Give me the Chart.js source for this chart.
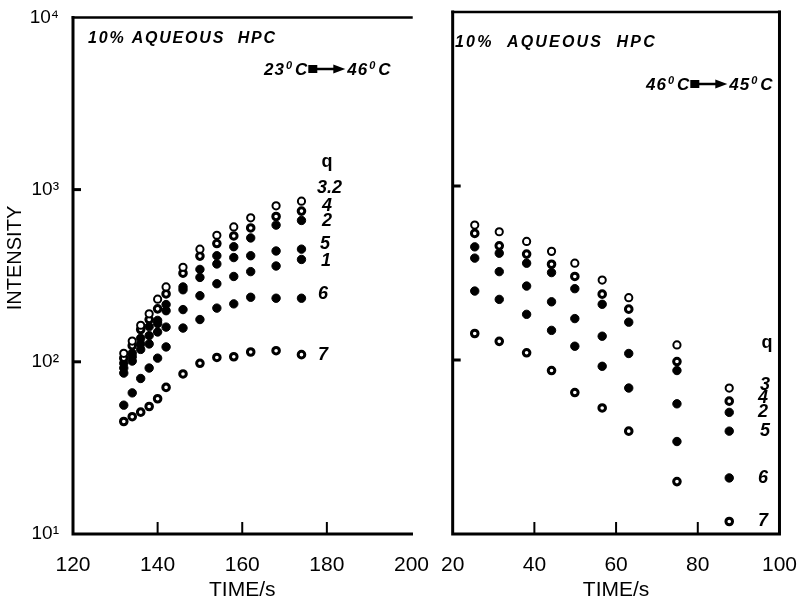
<!DOCTYPE html>
<html>
<head>
<meta charset="utf-8">
<script src="https://cdn.jsdelivr.net/npm/chart.js@4"></script>
<style>
  html, body { margin: 0; padding: 0; background: #fff; }
  #wrap { position: relative; width: 808px; height: 606px; }
  canvas { position: absolute; top: 0; }
  #left { left: 0; }
  #right { left: 430px; }
</style>
</head>
<body>
<div id="wrap">
  <canvas id="left" width="440" height="606"></canvas>
  <canvas id="right" width="378" height="606"></canvas>
</div>
<script>
// Heating run 23C -> 46C (left panel)
const heatTime = [132, 134, 136, 138, 140, 142, 146, 150, 154, 158, 162, 168, 174];
const heatQ32 = [112, 132, 163, 190, 231, 272, 354, 451, 543, 607, 686, 805, 857];
const heatQ4  = [105, 124, 154, 176, 203, 248, 327, 411, 486, 538, 599, 698, 750];
const heatQ2  = [98, 112, 137, 160, 174, 215, 272, 344, 413, 466, 524, 622, 662];
const heatQ5  = [92, 107, 127, 142, 167, 198, 262, 309, 370, 403, 413, 440, 451];
const heatQ1  = [86, 101, 118, 127, 149, 159, 201, 242, 284, 313, 334, 360, 393];
const heatQ6  = [56, 66, 80, 92, 105, 122, 157, 176, 205, 217, 237, 234, 234];
const heatQ7  = [45, 48, 51, 55, 61, 71, 85, 98, 106, 107, 114, 116, 110];

// Cooling run 46C -> 45C (right panel)
const coolTime = [25.4, 31.4, 38.1, 44.2, 49.9, 56.6, 63.1, 74.9, 87.7];
const coolQ3 = [596, 546, 480, 421, 360, 288, 228, 122, 69];
const coolQ4 = [534, 453, 406, 355, 302, 239, 196, 98, 58];
const coolQ2 = [447, 411, 360, 318, 257, 209, 165, 87, 50];
const coolQ5 = [385, 322, 266, 216, 173, 137, 109, 56, 39];
const coolQ6 = [249, 223, 183, 148, 120, 92, 69, 34, 21];
const coolQ7 = [142, 128, 110, 87, 65, 53, 39, 20, 11.8];

const yTickValues = [10, 100, 1000, 10000];
const yTickLabels = ['10¹', '10²', '10³', '10⁴'];

const FONT = '"Liberation Sans", Arial, sans-serif';

const markerStyles = {
    open:   { bg: '#fff', bw: 2, r: 3.6 },
    ring:   { bg: '#fff', bw: 3, r: 3.3 },
    filled: { bg: '#000', bw: 1, r: 4.2 }
};

function series(label, time, values, style) {
    const m = markerStyles[style];
    return {
        label,
        data: time.map((t, i) => ({ x: t, y: values[i] })),
        showLine: false,
        pointRadius: m.r,
        pointBackgroundColor: m.bg,
        pointBorderColor: '#000',
        pointBorderWidth: m.bw
    };
}

function drawDeg(ctx, num, x, y) {
    ctx.font = `italic bold 17px ${FONT}`;
    ctx.fillText(num, x, y);
    x += ctx.measureText(num).width + 1;
    ctx.font = `italic bold 11px ${FONT}`;
    ctx.fillText('0', x, y - 6);
    x += ctx.measureText('0').width + 2;
    ctx.font = `italic bold 17px ${FONT}`;
    ctx.fillText('C', x, y);
    return x + ctx.measureText('C').width;
}

function drawTemp(ctx, from, to, x, y) {
    x = drawDeg(ctx, from, x, y);
    ctx.fillRect(x, y - 10, 9, 8);
    ctx.lineWidth = 2.5;
    ctx.beginPath();
    ctx.moveTo(x + 8, y - 6);
    ctx.lineTo(x + 28, y - 6);
    ctx.stroke();
    ctx.beginPath();
    ctx.moveTo(x + 25, y - 10.5);
    ctx.lineTo(x + 37, y - 6);
    ctx.lineTo(x + 25, y - 1.5);
    ctx.closePath();
    ctx.fill();
    drawDeg(ctx, to, x + 39, y);
}

// frame, inward ticks and the in-plot annotations
const framePlugin = {
    id: 'frame',
    afterDraw(chart, args, o) {
        const { ctx, chartArea: a, scales: { x, y } } = chart;
        ctx.save();
        ctx.strokeStyle = '#000';
        ctx.fillStyle = '#000';
        ctx.lineCap = 'square';

        ctx.lineWidth = 3;
        ctx.beginPath();
        ctx.moveTo(a.left, a.top); ctx.lineTo(a.left, a.bottom); ctx.lineTo(a.right, a.bottom);
        if (o.right) { ctx.lineTo(a.right, a.top); }
        ctx.stroke();
        ctx.lineWidth = 2.5;
        ctx.beginPath();
        ctx.moveTo(a.left, a.top); ctx.lineTo(a.right, a.top);
        ctx.stroke();

        ctx.lineWidth = 2;
        ctx.lineCap = 'butt';
        o.xTicks.forEach(v => {
            const px = x.getPixelForValue(v);
            ctx.beginPath(); ctx.moveTo(px, a.bottom); ctx.lineTo(px, a.bottom - 12); ctx.stroke();
        });
        ctx.lineWidth = 3;
        o.yTicks.forEach(v => {
            const py = y.getPixelForValue(v);
            ctx.beginPath(); ctx.moveTo(a.left, py); ctx.lineTo(a.left + 8, py); ctx.stroke();
        });

        ctx.textBaseline = 'alphabetic';
        ctx.textAlign = 'left';
        ctx.font = `italic bold 16px ${FONT}`;
        ctx.letterSpacing = o.title.spacing + 'px';
        ctx.fillText(o.title.text, o.title.x, o.title.y);
        ctx.letterSpacing = '1px';
        drawTemp(ctx, o.temp.from, o.temp.to, o.temp.x, o.temp.y);
        ctx.letterSpacing = '0px';

        ctx.font = `bold 18px ${FONT}`;
        ctx.textAlign = 'center';
        ctx.fillText('q', o.q.x, o.q.y);

        ctx.font = `italic bold 18px ${FONT}`;
        ctx.textAlign = 'left';
        ctx.textBaseline = 'middle';
        o.labels.forEach(l => ctx.fillText(l.text, l.x, l.y));

        if (o.yTitle) {
            ctx.translate(15, 258);
            ctx.rotate(-Math.PI / 2);
            ctx.font = `20px ${FONT}`;
            ctx.textAlign = 'center';
            ctx.textBaseline = 'middle';
            ctx.fillText(o.yTitle, 0, 0);
        }
        ctx.restore();
    }
};

function makeChart(id, datasets, xMin, xMax, padding, yWidth, showYLabels, deco) {
    return new Chart(document.getElementById(id), {
        type: 'scatter',
        data: { datasets },
        options: {
            responsive: false,
            animation: false,
            layout: { padding },
            plugins: { legend: { display: false }, tooltip: { enabled: false }, frame: deco },
            scales: {
                x: {
                    type: 'linear', min: xMin, max: xMax,
                    grid: { display: false }, border: { display: false },
                    ticks: { stepSize: 20, color: '#000', font: { family: FONT, size: 21 }, padding: 11, maxRotation: 0 },
                    title: { display: true, text: 'TIME/s', color: '#000', font: { family: FONT, size: 21 }, padding: { top: 0, bottom: 3 } },
                    afterFit: s => { s.height = 72; }
                },
                y: {
                    type: 'logarithmic', min: 10, max: 10000,
                    grid: { display: false }, border: { display: false },
                    afterBuildTicks: s => { s.ticks = yTickValues.map(v => ({ value: v })); },
                    ticks: {
                        display: showYLabels, color: '#000', font: { family: FONT, size: 19 }, padding: 6,
                        callback: v => yTickLabels[yTickValues.indexOf(v)] || ''
                    },
                    afterFit: s => { s.width = yWidth; }
                }
            }
        },
        plugins: [framePlugin]
    });
}

makeChart('left', [
    series('3.2', heatTime, heatQ32, 'open'),
    series('4', heatTime, heatQ4, 'ring'),
    series('2', heatTime, heatQ2, 'filled'),
    series('5', heatTime, heatQ5, 'filled'),
    series('1', heatTime, heatQ1, 'filled'),
    series('6', heatTime, heatQ6, 'filled'),
    series('7', heatTime, heatQ7, 'ring')
], 120, 200, { top: 12, right: 22, bottom: 0, left: 0 }, 73, true, {
    right: false,
    xTicks: [140, 160, 180],
    yTicks: [100, 1000],
    title: { text: '10% AQUEOUS  HPC', x: 88, y: 43, spacing: 1.8 },
    temp: { from: '23', to: '46', x: 264, y: 75 },
    q: { x: 327, y: 167 },
    labels: [
        { text: '3.2', x: 317, y: 188 }, { text: '4', x: 322, y: 206 }, { text: '2', x: 322, y: 221 },
        { text: '5', x: 320, y: 244 }, { text: '1', x: 321, y: 261 }, { text: '6', x: 318, y: 294 },
        { text: '7', x: 318, y: 355 }
    ],
    yTitle: 'INTENSITY'
});

makeChart('right', [
    series('3', coolTime, coolQ3, 'open'),
    series('4', coolTime, coolQ4, 'ring'),
    series('2', coolTime, coolQ2, 'filled'),
    series('5', coolTime, coolQ5, 'filled'),
    series('6', coolTime, coolQ6, 'filled'),
    series('7', coolTime, coolQ7, 'ring')
], 20, 100, { top: 12, right: 14, bottom: 0, left: 0 }, 14, false, {
    right: true,
    xTicks: [40, 60, 80],
    yTicks: [100, 1000],
    title: { text: '10%  AQUEOUS  HPC', x: 25, y: 47, spacing: 2.2 },
    temp: { from: '46', to: '45', x: 216, y: 90 },
    q: { x: 337, y: 348 },
    labels: [
        { text: '3', x: 330, y: 385 }, { text: '4', x: 328, y: 398 }, { text: '2', x: 328, y: 412 },
        { text: '5', x: 330, y: 431 }, { text: '6', x: 328, y: 478 }, { text: '7', x: 328, y: 521 }
    ]
});
</script>
</body>
</html>
